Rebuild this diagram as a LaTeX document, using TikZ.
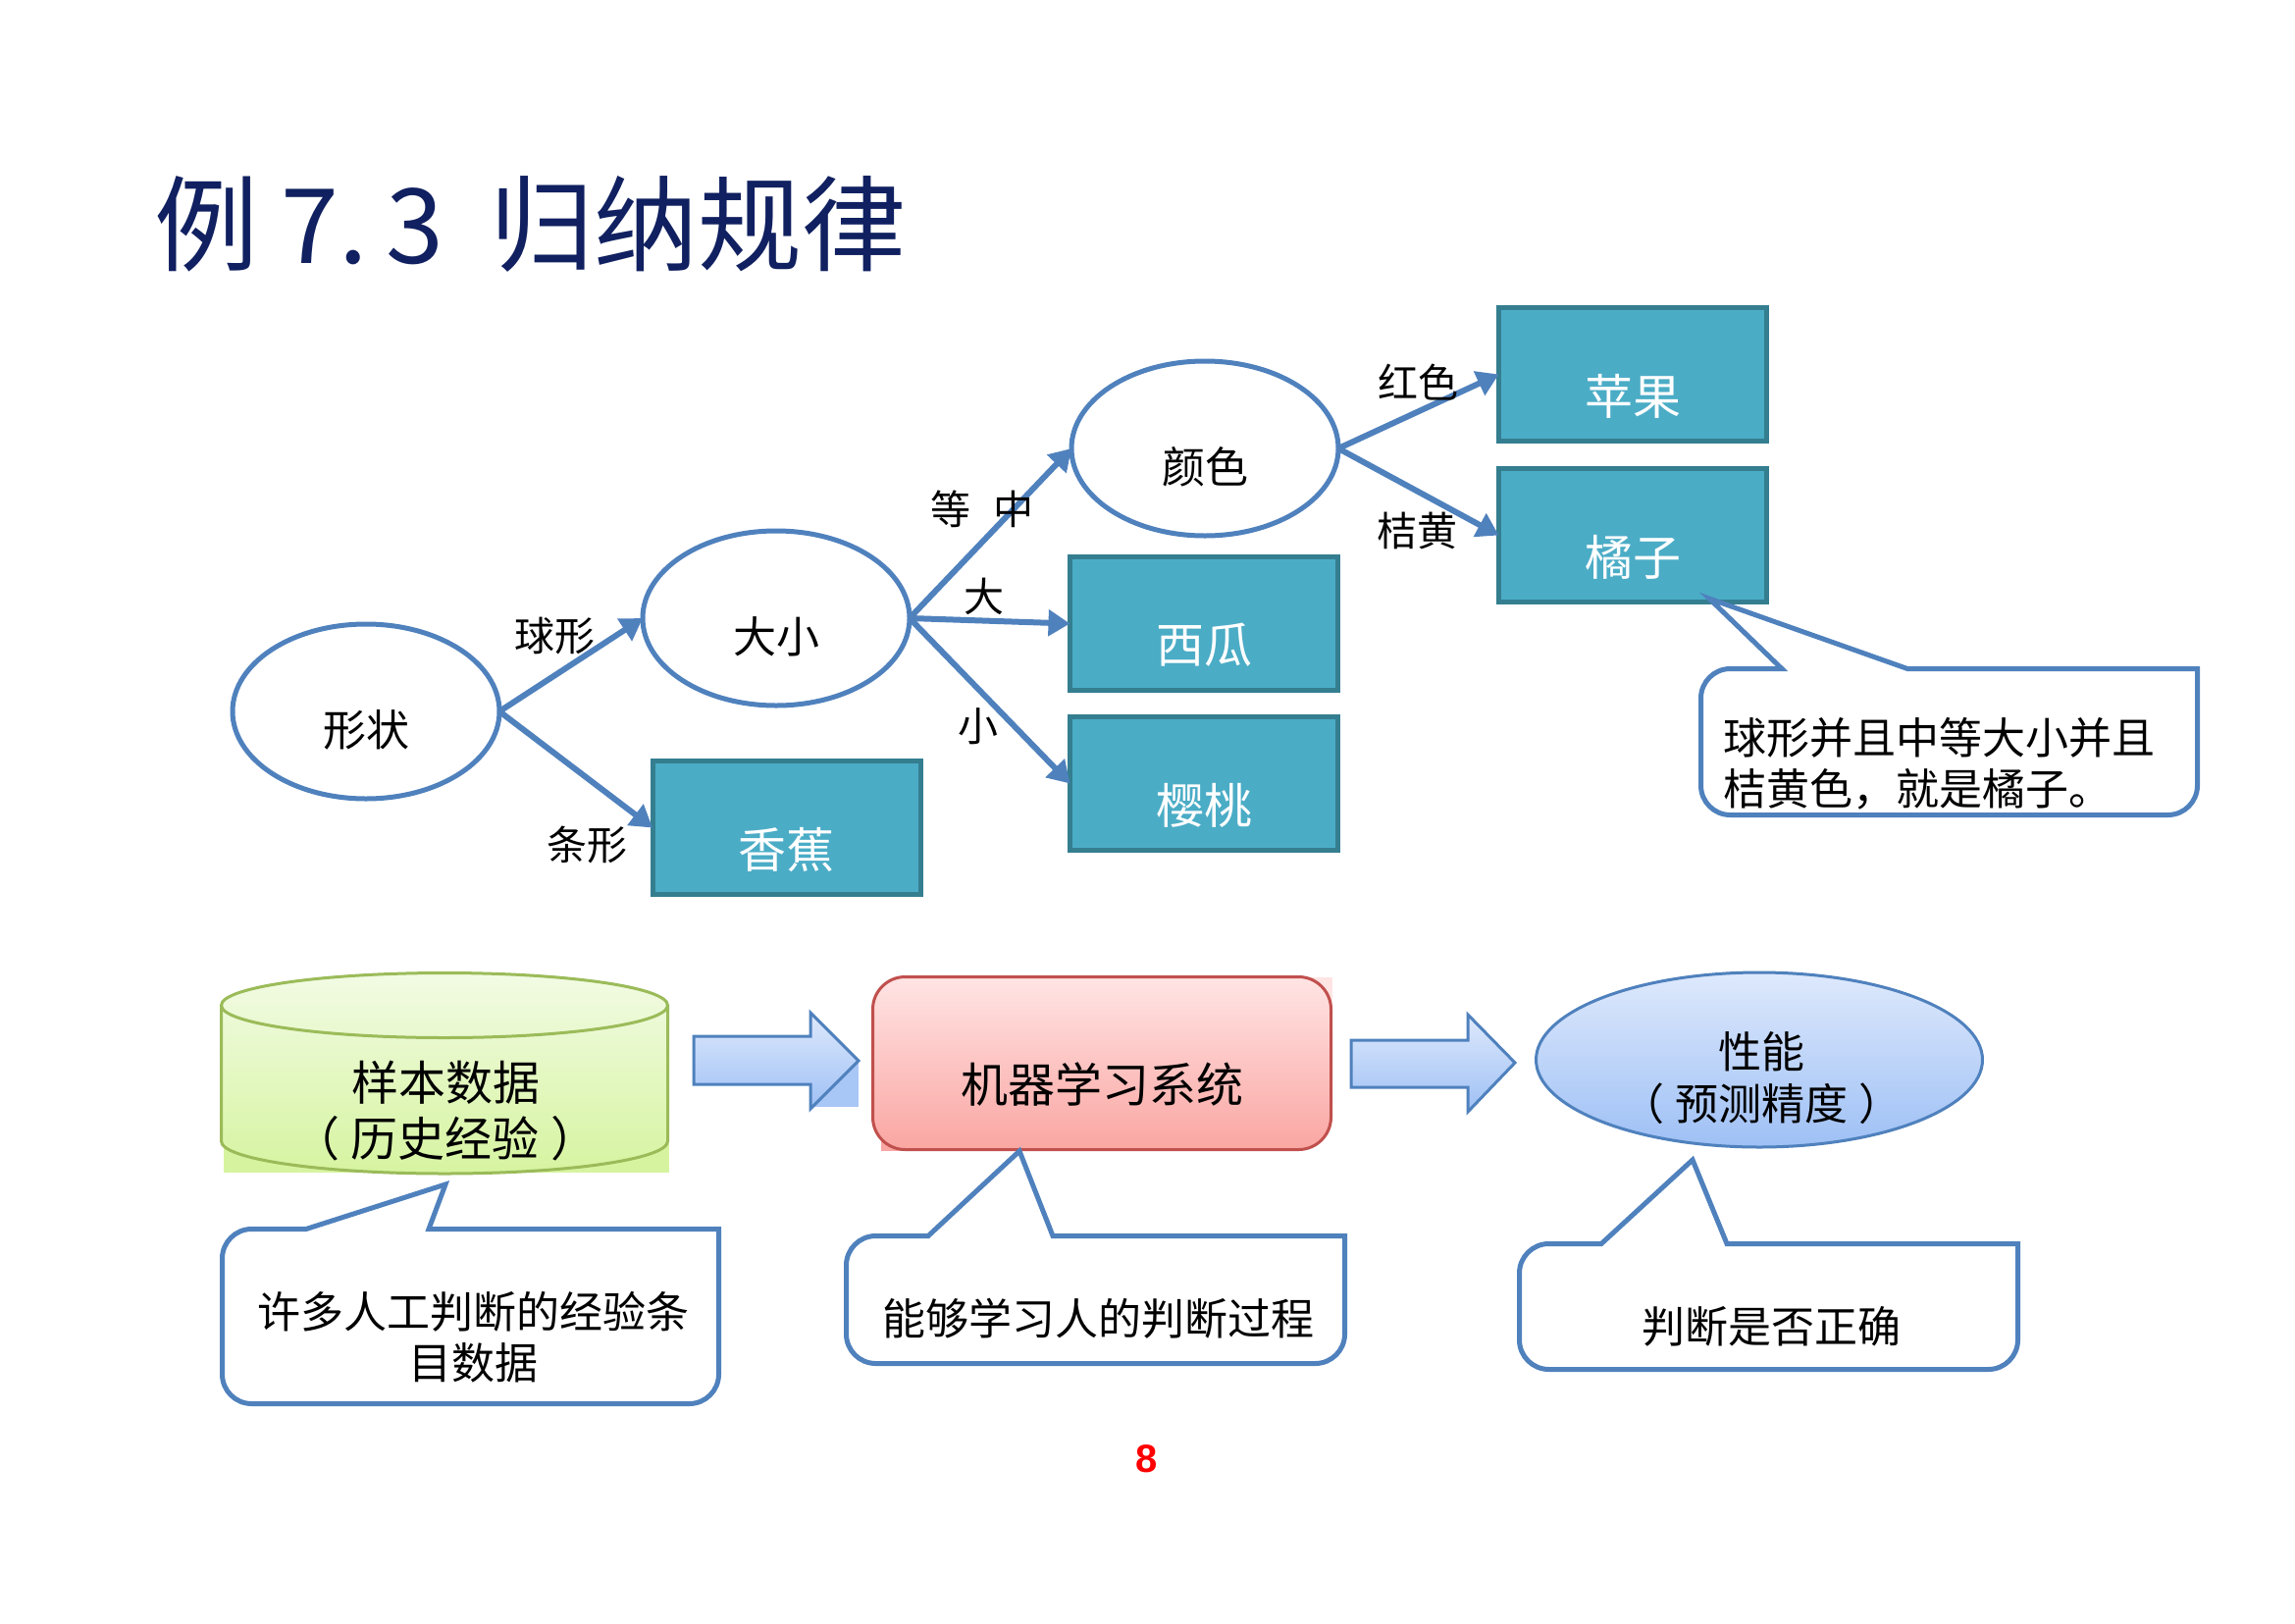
\documentclass[tikz,border=0pt]{standalone}
\usepackage{fontspec}
\setmainfont{Noto Sans CJK SC}
\newfontfamily\numfont{Liberation Sans}
\usetikzlibrary{arrows.meta,shapes.geometric,calc}
\definecolor{lineblue}{RGB}{79,129,189}
\definecolor{tealfill}{RGB}{75,172,198}
\definecolor{tealline}{RGB}{52,126,144}
\definecolor{navy}{RGB}{16,32,96}
\definecolor{cylline}{RGB}{155,187,89}
\definecolor{cyltop}{RGB}{242,251,228}
\definecolor{cylbot}{RGB}{214,244,160}
\definecolor{redline}{RGB}{192,80,77}
\definecolor{redtop}{RGB}{255,228,228}
\definecolor{redbot}{RGB}{250,166,162}
\definecolor{bluetop}{RGB}{222,233,252}
\definecolor{bluebot}{RGB}{158,192,245}
\begin{document}
\begin{tikzpicture}[x=1pt,y=-1pt,
  ellip/.style={ellipse, draw=lineblue, line width=5pt, fill=white, minimum width=272pt, minimum height=178pt, inner sep=0pt, outer sep=0pt},
  fruit/.style={rectangle, draw=tealline, fill=tealfill, line width=5pt, minimum width=273pt, minimum height=136pt, inner sep=0pt, outer sep=0pt},
  boxtext/.style={text=white, inner sep=0pt, font=\fontsize{49}{58}\selectfont},
  elltext/.style={inner sep=0pt, font=\fontsize{44}{52}\selectfont},
  edgetext/.style={inner sep=0pt, font=\fontsize{41}{48}\selectfont},
  conn/.style={draw=lineblue, line width=6pt, -{Triangle[length=22pt,width=26pt]}},
  callout/.style={draw=lineblue, line width=5pt, fill=white, line join=miter},
  calltext/.style={inner sep=0pt, font=\fontsize{44}{52}\selectfont, align=center},
  blockarrow/.style={draw=lineblue, line width=3pt, top color=bluetop, bottom color=bluebot, line join=miter},
]
\useasboundingbox (0,0) rectangle (2339,1654);
\fill[white] (0,0) rectangle (2339,1654);

% title
\node[anchor=base west, text=navy, inner sep=0pt, font=\fontsize{106}{120}\selectfont] (title) at (157,268) {例 7.\hspace{18pt}3\hspace{47pt}归纳规律};

% decision tree
\node[ellip] (xz) at (373,725) {};
\node[ellip] (dx) at (791,630) {};
\node[ellip] (ys) at (1228,457) {};
\node[elltext] (xzt) at ([yshift=-19pt]xz.center) {形状};
\node[elltext] (dxt) at ([yshift=-19pt]dx.center) {大小};
\node[elltext] (yst) at ([yshift=-19pt]ys.center) {颜色};

\node[fruit] (xj) at (801.5,843.5) {};
\node[fruit] (xg) at (1227,635.5) {};
\node[fruit] (yt) at (1227,798.5) {};
\node[fruit] (pg) at (1664,381.5) {};
\node[fruit] (jz) at (1664,545.5) {};
\node[boxtext] (xjt) at ([yshift=-22pt]xj.center) {香蕉};
\node[boxtext] (xgt) at ([yshift=-22pt]xg.center) {西瓜};
\node[boxtext] (ytt) at ([yshift=-22pt]yt.center) {樱桃};
\node[boxtext] (pgt) at ([yshift=-22pt]pg.center) {苹果};
\node[boxtext] (jzt) at ([yshift=-22pt]jz.center) {橘子};

\draw[conn] (xz.east) -- (dx.west);
\draw[conn] (xz.east) -- (xj.west);
\draw[conn] (dx.east) -- (ys.west);
\draw[conn] (dx.east) -- (xg.west);
\draw[conn] (dx.east) -- (yt.west);
\draw[conn] (ys.east) -- (pg.west);
\draw[conn] (ys.east) -- (jz.west);

\node[edgetext] (l1) at (565,648) {球形};
\node[edgetext] (l2) at (598,861) {条形};
\node[edgetext] (l3) at (1001,519) {等\hspace{24pt}中};
\node[edgetext] (l4) at (1003,608) {大};
\node[edgetext] (l5) at (997,740) {小};
\node[edgetext] (l6) at (1445,390) {红色};
\node[edgetext] (l7) at (1444,541) {桔黄};

% callout top right
\draw[callout] (2239.5,756) [rounded corners=30pt] -- (2239.5,830.5) -- (1733.5,830.5) -- (1733.5,681.5) [sharp corners] -- (1816,681.5) -- (1742,610) -- (1944,681.5) -- (2239.5,681.5) [rounded corners=30pt] -- cycle;
\node[calltext, align=left, anchor=west] (c1t) at (1756,778) {球形并且中等大小并且\\桔黄色，就是橘子。};

% bottom row: cylinder
\fill[cylbot] (228,1150) rectangle (682,1195);
\path[top color=cyltop, bottom color=cylbot] (225.5,1024.5) -- (225.5,1163) arc[start angle=180, end angle=0, x radius=227.5, y radius=33] -- (680.5,1024.5) arc[start angle=0, end angle=-180, x radius=227.5, y radius=33] -- cycle;
\draw[cylline, line width=3pt] (225.5,1024.5) -- (225.5,1163) arc[start angle=180, end angle=0, x radius=227.5, y radius=33] -- (680.5,1024.5);
\draw[cylline, line width=3pt] (453,1024.5) ellipse [x radius=227.5, y radius=33];
\node[inner sep=0pt, align=center, font=\fontsize{48}{57}\selectfont] (cyl) at (454,1132) {样本数据\\（\hspace{12pt}历史经验\hspace{12pt}）};

% block arrow 1
\fill[bluebot!85!bluetop] (826,1081) rectangle (875,1128);
\draw[blockarrow] (707,1056) -- (826,1056) -- (826,1032) -- (875,1081) -- (826,1130) -- (826,1105) -- (707,1105) -- cycle;

% machine learning system box
\fill[redtop] (1322,996) rectangle (1358,1030);
\fill[redbot] (898,1138) rectangle (924,1173);
\node[rectangle, rounded corners=33pt, draw=redline, line width=3pt, top color=redtop, bottom color=redbot, minimum width=467pt, minimum height=176pt, inner sep=0pt] (ml) at (1123,1083.5) {};
\node[inner sep=0pt, font=\fontsize{48}{57}\selectfont] (mlt) at ([yshift=-22pt]ml.center) {机器学习系统};

% block arrow 2
\draw[blockarrow] (1377,1060) -- (1496,1060) -- (1496,1034) -- (1544,1083) -- (1496,1133) -- (1496,1108) -- (1377,1108) -- cycle;

% performance ellipse
\node[ellipse, draw=lineblue, line width=3pt, top color=bluetop, bottom color=bluebot, minimum width=455pt, minimum height=178pt, inner sep=0pt] (perf) at (1793,1080) {};
\node[inner sep=0pt, align=center, font=\fontsize{44}{53}\selectfont] (perft) at (1795,1099) {性能\\（\hspace{11pt}预测精度\hspace{11pt}）};

% bottom callouts
\draw[callout] (732.5,1340) [rounded corners=30pt] -- (732.5,1430.5) -- (226.5,1430.5) -- (226.5,1252.5) [sharp corners] -- (312,1252.5) -- (454,1207) -- (437,1252.5) -- (732.5,1252.5) [rounded corners=30pt] -- cycle;
\node[calltext] (c2t) at (482,1363) {许多人工判断的经验条\\目数据};

\draw[callout] (1370.5,1325) [rounded corners=30pt] -- (1370.5,1389.5) -- (862.5,1389.5) -- (862.5,1259.5) [sharp corners] -- (946,1259.5) -- (1039,1173) -- (1073,1259.5) -- (1370.5,1259.5) [rounded corners=30pt] -- cycle;
\node[calltext] (c3t) at (1119,1344) {能够学习人的判断过程};

\draw[callout] (2056.5,1330) [rounded corners=30pt] -- (2056.5,1395.5) -- (1548.5,1395.5) -- (1548.5,1267.5) [sharp corners] -- (1632,1267.5) -- (1725,1182) -- (1760,1267.5) -- (2056.5,1267.5) [rounded corners=30pt] -- cycle;
\node[calltext] (c4t) at (1805,1352) {判断是否正确};

% page number
\node[text=red, inner sep=0pt, font=\numfont\bfseries\fontsize{40}{48}\selectfont] (pn) at (1169,1487) {8};
\end{tikzpicture}
\end{document}
